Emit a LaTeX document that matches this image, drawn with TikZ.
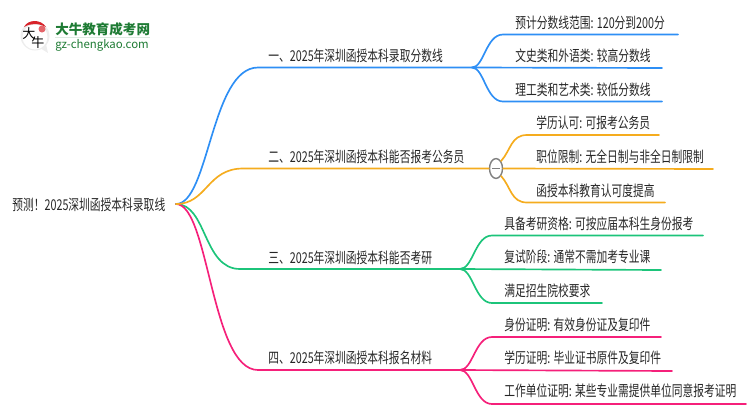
\documentclass[tikz,border=0pt]{standalone}
\usepackage{fontspec}
\setmainfont[FakeStretch=0.72]{Noto Sans CJK SC}
\newfontfamily\logofont{Noto Sans CJK SC}
\usetikzlibrary{shapes.geometric}
\definecolor{blueline}{HTML}{2E8FF5}
\definecolor{orangeline}{HTML}{F5AC1E}
\definecolor{greenline}{HTML}{1CC47A}
\definecolor{pinkline}{HTML}{F5207A}
\definecolor{logogreen}{HTML}{1E7B34}
\definecolor{logored}{HTML}{D8232A}
\tikzset{
	txt/.style={anchor=base west, inner sep=0pt, font=\fontsize{8.5}{10}\selectfont, text=black!85},
	wire/.style={line width=0.95pt, line cap=round},
}
\begin{document}
\begin{tikzpicture}[x=0.02cm,y=-0.02cm]
\useasboundingbox (0,0) rectangle (750,410);
% logo
\fill[black!7] (35,36) circle (14.5);
\fill[black!7] (40,48) -- (48,53) -- (46,44) -- cycle;
\fill[white] (35,37) circle (12.5);
\fill[logored] (24,27) .. controls (28,19) and (41,19) .. (46,27) .. controls (38,23) and (31,23) .. (24,27) -- cycle;
\fill[logored!70] (42,29) circle (3.5);
\node[txt, font=\logofont\fontsize{7.4}{8}\selectfont, text=black] (logoa) at (22,38) {大};
\node[txt, font=\logofont\fontsize{7.4}{8}\selectfont, text=black] (logob) at (31,47) {牛};
\node[txt, font=\logofont\fontsize{7.7}{9}\selectfont\bfseries, text=logogreen] (logoname) at (55,34.5) {大牛教育成考网};
\node[txt, font=\logofont\fontsize{6.5}{7}\selectfont, text=logogreen] (logourl) at (55,48) {gz-chengkao.com};
\draw[logogreen!15, line width=0.6pt] (logourl.north west) ++(0,-1.5) -- ++(95,0);
% root
\node[txt] (root) at (12,210) {预测！2025深圳函授本科录取线};
\coordinate (hub) at (176,204);
% first level
\node[txt] (one) at (268,61) {一、2025年深圳函授本科录取分数线};
\node[txt] (two) at (268,162) {二、2025年深圳函授本科能否报考公务员};
\node[txt] (three) at (268,263) {三、2025年深圳函授本科能否考研};
\node[txt] (four) at (268,363) {四、2025年深圳函授本科报名材料};
% ends of the first level lines
\coordinate (oneL) at (258,67.5);
\coordinate (oneR) at (472,67.5);
\coordinate (twoL) at (243,168.5);
\coordinate (threeL) at (240,269);
\coordinate (threeR) at (460,269);
\coordinate (fourL) at (258,370);
\coordinate (fourR) at (460,370);
\node[ellipse, draw=gray, line width=0.8pt, fill=white, inner sep=0pt, minimum width=7.4pt, minimum height=11.3pt] (fold) at (496,168.5) {};
% hub curves
\draw[wire, blueline] (hub) .. controls (209,204) and (211,67.5) .. (oneL) -- (oneR);
\draw[wire, greenline] (hub) .. controls (207,204) and (203,269) .. (threeL) -- (threeR);
\draw[wire, pinkline] (hub) .. controls (209,204) and (211,370) .. (fourL) -- (fourR);
\draw[wire, orangeline] (hub) .. controls (207,204) and (207,168.5) .. (twoL) -- (fold);
% children of one
\node[txt] (a) at (515,28) {预计分数线范围: 120分到200分};
\node[txt] (b) at (515,61) {文史类和外语类: 较高分数线};
\node[txt] (c) at (515,95) {理工类和艺术类: 较低分数线};
\coordinate (aL) at (503,34.5);
\coordinate (aR) at (678,34.5);
\coordinate (bR) at (662,68);
\coordinate (cL) at (503,101.5);
\coordinate (cR) at (662,101.5);
\draw[wire, blueline] (oneR) .. controls (484,67.5) and (486,34.5) .. (aL) -- (aR);
\draw[wire, blueline] (oneR) -- (bR);
\draw[wire, blueline] (oneR) .. controls (484,67.5) and (486,101.5) .. (cL) -- (cR);
% children of two
\node[txt] (d) at (536,128) {学历认可: 可报考公务员};
\node[txt] (e) at (536,162) {职位限制: 无全日制与非全日制限制};
\node[txt] (f) at (536,196) {函授本科教育认可度提高};
\coordinate (dL) at (527,135);
\coordinate (dR) at (659,135);
\coordinate (eR) at (713,169);
\coordinate (fL) at (527,202.5);
\coordinate (fR) at (665,202.5);
\draw[wire, orangeline] (fold.north east) .. controls (511,150) and (511,135) .. (dL) -- (dR);
\draw[wire, orangeline] (fold.east) -- (eR);
\draw[wire, orangeline] (fold.south east) .. controls (511,187) and (511,202.5) .. (fL) -- (fR);
\draw[gray, line width=0.8pt] (fold.center) ++(-4,0) -- ++(8,0);
% children of three
\node[txt] (g) at (504,229) {具备考研资格: 可按应届本科生身份报考};
\node[txt] (h) at (504,262) {复试阶段: 通常不需加考专业课};
\node[txt] (i) at (504,296) {满足招生院校要求};
\coordinate (gL) at (492,235.5);
\coordinate (gR) at (703,235.5);
\coordinate (hR) at (661,270);
\coordinate (iL) at (492,303);
\coordinate (iR) at (602,303);
\draw[wire, greenline] (threeR) .. controls (473,269) and (475,235.5) .. (gL) -- (gR);
\draw[wire, greenline] (threeR) -- (hR);
\draw[wire, greenline] (threeR) .. controls (473,269) and (475,303) .. (iL) -- (iR);
% children of four
\node[txt] (j) at (504,330) {身份证明: 有效身份证及复印件};
\node[txt] (k) at (504,363) {学历证明: 毕业证书原件及复印件};
\node[txt] (l) at (504,396) {工作单位证明: 某些专业需提供单位同意报考证明};
\coordinate (jL) at (492,337);
\coordinate (jR) at (661,337);
\coordinate (kR) at (672,371);
\coordinate (lL) at (492,404);
\coordinate (lR) at (746,404);
\draw[wire, pinkline] (fourR) .. controls (473,370) and (475,337) .. (jL) -- (jR);
\draw[wire, pinkline] (fourR) -- (kR);
\draw[wire, pinkline] (fourR) .. controls (473,370) and (475,404) .. (lL) -- (lR);
\end{tikzpicture}
\end{document}
